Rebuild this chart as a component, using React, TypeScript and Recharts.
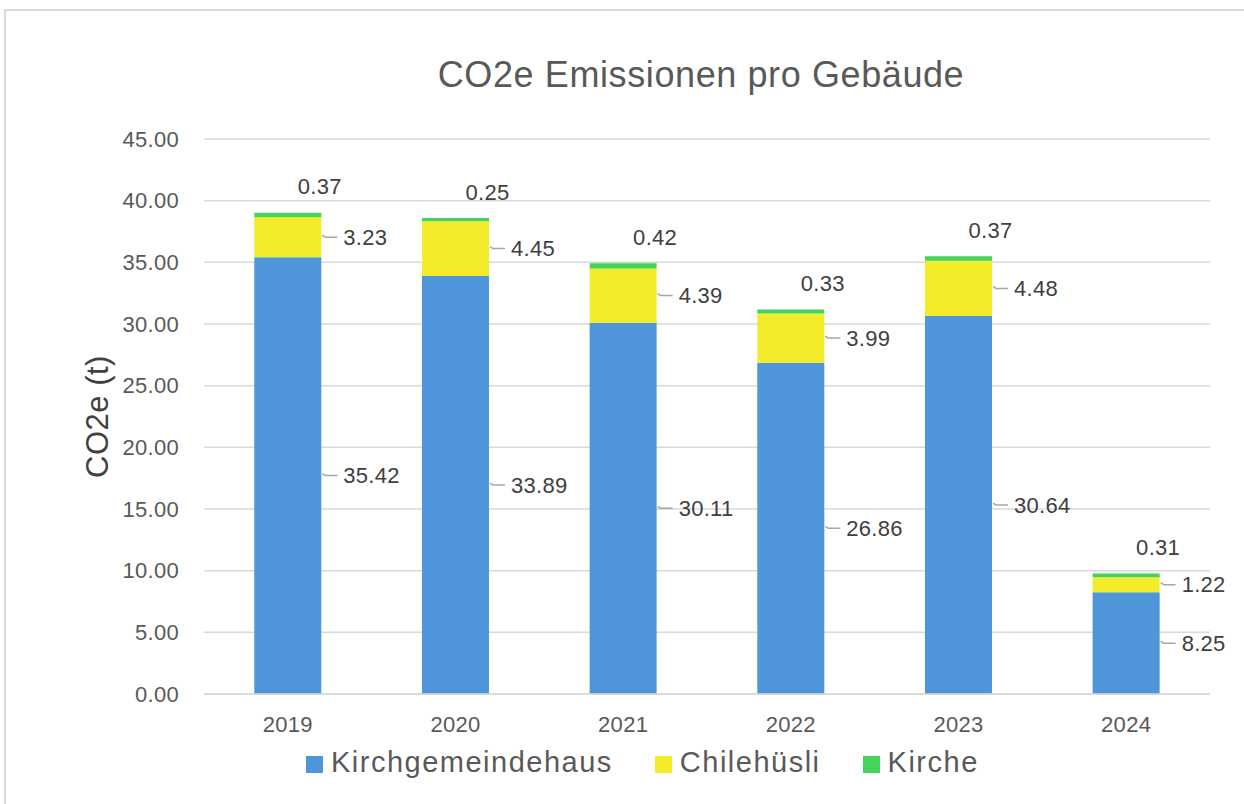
import { BarChart, Bar, XAxis, YAxis, CartesianGrid, LabelList } from "recharts";

const years = ["2019", "2020", "2021", "2022", "2023", "2024"];
const kirchgemeindehaus = [35.42, 33.89, 30.11, 26.86, 30.64, 8.25];
const chilehuesli = [3.23, 4.45, 4.39, 3.99, 4.48, 1.22];
const kirche = [0.37, 0.25, 0.42, 0.33, 0.37, 0.31];
const yTicks = [0, 5, 10, 15, 20, 25, 30, 35, 40, 45];

const series = [
  { key: "kirchgemeindehaus", name: "Kirchgemeindehaus", color: "#4f95d9" },
  { key: "chilehuesli", name: "Chilehüsli", color: "#f3ec2b" },
  { key: "kirche", name: "Kirche", color: "#45d35b" },
];

const data = years.map((year, i) => ({
  year,
  kirchgemeindehaus: kirchgemeindehaus[i],
  chilehuesli: chilehuesli[i],
  kirche: kirche[i],
}));

const FONT = '"Liberation Sans", Arial, sans-serif';
const GRID = "#d9d9d9";

// label to the right of the segment, with a short leader line
function SideLabel(props: any) {
  const { x, y, width, height, value } = props;
  const right = Number(x) + Number(width);
  const cy = Number(y) + Number(height) / 2;
  return (
    <g>
      <polyline
        points={`${right + 1},${cy - 2} ${right + 4},${cy} ${right + 16},${cy}`}
        fill="none"
        stroke="#a6a6a6"
        strokeWidth={1.5}
      />
      <text
        x={right + 22}
        y={cy}
        dominantBaseline="central"
        fontFamily={FONT}
        fontSize={22}
        letterSpacing={0.3}
        fill="#404040"
      >
        {Number(value).toFixed(2)}
      </text>
    </g>
  );
}

// label above the stack (small top segment)
function TopLabel(props: any) {
  const { x, y, width, value } = props;
  return (
    <text
      x={Number(x) + Number(width) / 2 + 32}
      y={Number(y) - 26}
      textAnchor="middle"
      dominantBaseline="central"
      fontFamily={FONT}
      fontSize={22}
      letterSpacing={0.3}
      fill="#404040"
    >
      {Number(value).toFixed(2)}
    </text>
  );
}

function YLabel(props: any) {
  const vb = props.viewBox || {};
  const cx = 97;
  const cy = (vb.y ?? 139) + (vb.height ?? 555) / 2;
  return (
    <text
      x={cx}
      y={cy}
      transform={`rotate(-90 ${cx} ${cy})`}
      textAnchor="middle"
      dominantBaseline="central"
      fontFamily={FONT}
      fontSize={31}
      letterSpacing={0.5}
      fill="#404040"
    >
      CO2e (t)
    </text>
  );
}

export default function App() {
  return (
    <div
      style={{
        position: "absolute",
        left: 0,
        top: 0,
        width: 1244,
        height: 804,
        overflow: "hidden",
        background: "#fff",
        fontFamily: FONT,
      }}
    >
      <div
        style={{
          position: "absolute",
          left: 4,
          top: 9,
          width: 1300,
          height: 900,
          borderLeft: `2px solid ${GRID}`,
          borderTop: `2px solid ${GRID}`,
        }}
      />
      <div
        style={{
          position: "absolute",
          left: 0,
          top: 57,
          width: 1402,
          textAlign: "center",
          fontSize: 36,
          lineHeight: "36px",
          letterSpacing: 0.6,
          color: "#595959",
        }}
      >
        CO2e Emissionen pro Gebäude
      </div>
      <div style={{ position: "absolute", left: 0, top: 0 }}>
        <BarChart
          width={1244}
          height={804}
          data={data}
          margin={{ top: 139, right: 34, bottom: 80, left: 0 }}
          barCategoryGap="30%"
        >
          <CartesianGrid vertical={false} stroke={GRID} strokeWidth={1.5} />
          <XAxis
            dataKey="year"
            height={30}
            axisLine={{ stroke: GRID, strokeWidth: 1.5 }}
            tickLine={false}
            tickSize={0}
            tickMargin={22}
            tick={{ fontFamily: FONT, fontSize: 22, fill: "#595959", letterSpacing: 0.3 }}
          />
          <YAxis
            width={204}
            domain={[0, 45]}
            ticks={yTicks}
            interval={0}
            axisLine={false}
            tickLine={false}
            tickSize={0}
            tickMargin={25}
            tickFormatter={(v: number) => v.toFixed(2)}
            tick={{ fontFamily: FONT, fontSize: 22, fill: "#595959", letterSpacing: 0.3 }}
            label={YLabel}
          />
          <Bar dataKey="kirchgemeindehaus" name="Kirchgemeindehaus" stackId="a" fill={series[0].color} isAnimationActive={false}>
            <LabelList dataKey="kirchgemeindehaus" content={SideLabel} />
          </Bar>
          <Bar dataKey="chilehuesli" name="Chilehüsli" stackId="a" fill={series[1].color} isAnimationActive={false}>
            <LabelList dataKey="chilehuesli" content={SideLabel} />
          </Bar>
          <Bar dataKey="kirche" name="Kirche" stackId="a" fill={series[2].color} isAnimationActive={false}>
            <LabelList dataKey="kirche" content={TopLabel} />
          </Bar>
        </BarChart>
      </div>
      <div
        style={{
          position: "absolute",
          left: 306,
          top: 748,
          display: "flex",
          alignItems: "center",
          fontSize: 29,
          lineHeight: "29px",
          letterSpacing: 1.5,
          color: "#595959",
          whiteSpace: "nowrap",
        }}
      >
        {series.map((s) => (
          <div key={s.key} style={{ display: "flex", alignItems: "center", marginRight: 42 }}>
            <div style={{ width: 17, height: 17, background: s.color, marginRight: 8, marginTop: 3 }} />
            <span>{s.name}</span>
          </div>
        ))}
      </div>
    </div>
  );
}
